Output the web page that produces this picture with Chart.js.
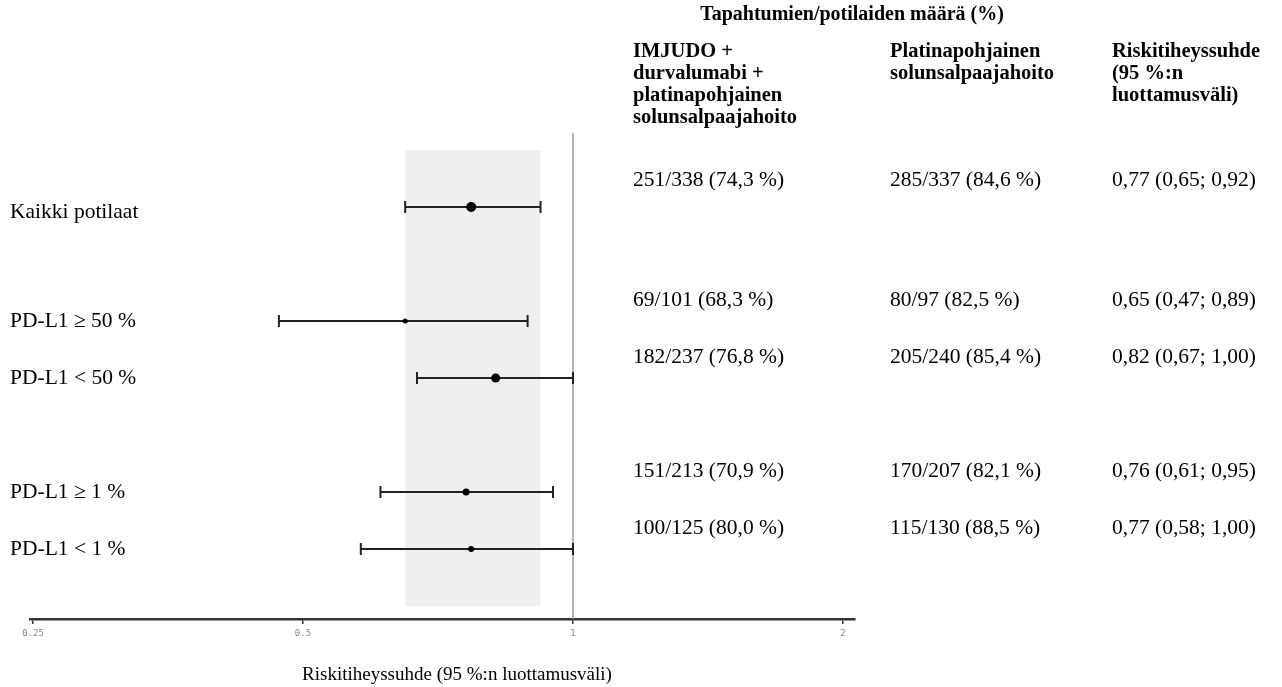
<!DOCTYPE html>
<html>
<head>
<meta charset="utf-8">
<script src="https://cdn.jsdelivr.net/npm/chart.js@4"></script>
<style>
  html, body { margin: 0; padding: 0; background: #fff; }
  #wrap { width: 1282px; height: 687px; position: relative; }
</style>
</head>
<body>
<div id="wrap"><canvas id="forestChart"></canvas></div>
<script>
// ─── data ───
var rowLabels = ['Kaikki potilaat', 'PD-L1 ≥ 50 %', 'PD-L1 < 50 %', 'PD-L1 ≥ 1 %', 'PD-L1 < 1 %'];
var rowPos = [0, 2, 3, 5, 6];
var hrValues = [0.77, 0.65, 0.82, 0.76, 0.77];
var ciLow = [0.65, 0.47, 0.67, 0.61, 0.58];
var ciHigh = [0.92, 0.89, 1.00, 0.95, 1.00];
var imjudoEvents = ['251/338 (74,3 %)', '69/101 (68,3 %)', '182/237 (76,8 %)', '151/213 (70,9 %)', '100/125 (80,0 %)'];
var platinaEvents = ['285/337 (84,6 %)', '80/97 (82,5 %)', '205/240 (85,4 %)', '170/207 (82,1 %)', '115/130 (88,5 %)'];
var hrTexts = ['0,77 (0,65; 0,92)', '0,65 (0,47; 0,89)', '0,82 (0,67; 1,00)', '0,76 (0,61; 0,95)', '0,77 (0,58; 1,00)'];
var pointSizes = [5, 2.5, 4.5, 3.5, 3];
var xTicks = [0.25, 0.5, 1, 2];
var refValue = 1;
var bandRange = [0.65, 0.92];

var groupTitle = 'Tapahtumien/potilaiden määrä (%)';
var colHeaders = [
  ['IMJUDO +', 'durvalumabi +', 'platinapohjainen', 'solunsalpaajahoito'],
  ['Platinapohjainen', 'solunsalpaajahoito'],
  ['Riskitiheyssuhde', '(95 %:n', 'luottamusväli)']
];
var xTitle = 'Riskitiheyssuhde (95 %:n luottamusväli)';

var SERIF = "'Liberation Serif', 'Times New Roman', serif";

// harmaa alue + viiva kohdassa 1 + virhepalkit
var forestPlugin = {
  id: 'forest',
  beforeDatasetsDraw: function(chart) {
    var ctx = chart.ctx, xs = chart.scales.x, ys = chart.scales.y, area = chart.chartArea;
    ctx.save();
    // band
    ctx.fillStyle = '#efefef';
    var bx0 = xs.getPixelForValue(bandRange[0]), bx1 = xs.getPixelForValue(bandRange[1]);
    var by0 = ys.getPixelForValue(-1), by1 = ys.getPixelForValue(7);
    ctx.fillRect(bx0, by0, bx1 - bx0, by1 - by0);
    // ref line
    var rx = xs.getPixelForValue(refValue);
    ctx.strokeStyle = '#999';
    ctx.lineWidth = 1.5;
    ctx.beginPath();
    ctx.moveTo(rx, area.top);
    ctx.lineTo(rx, area.bottom);
    ctx.stroke();
    // CI bars
    ctx.strokeStyle = '#222';
    ctx.lineWidth = 2;
    rowPos.forEach(function(r, i) {
      var y = ys.getPixelForValue(r);
      var x0 = xs.getPixelForValue(ciLow[i]), x1 = xs.getPixelForValue(ciHigh[i]);
      ctx.beginPath();
      ctx.moveTo(x0, y); ctx.lineTo(x1, y);
      ctx.moveTo(x0, y - 6); ctx.lineTo(x0, y + 6);
      ctx.moveTo(x1, y - 6); ctx.lineTo(x1, y + 6);
      ctx.stroke();
    });
    ctx.restore();
  },
  afterDraw: function(chart) {
    var ctx = chart.ctx, ys = chart.scales.y;
    ctx.save();
    ctx.fillStyle = '#000';
    ctx.textBaseline = 'middle';
    // otsikot
    ctx.font = 'bold 20px ' + SERIF;
    ctx.textAlign = 'center';
    ctx.fillText(groupTitle, 852, 15);
    ctx.textAlign = 'left';
    ctx.font = 'bold 20.5px ' + SERIF;
    var colX = [633, 890, 1112];
    colHeaders.forEach(function(lines, c) {
      lines.forEach(function(t, k) { ctx.fillText(t, colX[c], 52 + k * 22); });
    });
    // rivit
    ctx.font = '21.5px ' + SERIF;
    rowPos.forEach(function(r, i) {
      var y = ys.getPixelForValue(r);
      ctx.fillText(rowLabels[i], 10, y + (i === 0 ? 5 : 0));
      var ty = y - (i === 0 ? 27 : 21);
      ctx.fillText(imjudoEvents[i], colX[0], ty);
      ctx.fillText(platinaEvents[i], colX[1], ty);
      ctx.fillText(hrTexts[i], colX[2], ty);
    });
    ctx.font = '19px ' + SERIF;
    ctx.textAlign = 'center';
    ctx.fillText(xTitle, 457, 675);
    ctx.restore();
  }
};

new Chart(document.getElementById('forestChart'), {
  type: 'scatter',
  data: {
    datasets: [{
      data: hrValues.map(function(v, i) { return { x: v, y: rowPos[i] }; }),
      pointRadius: pointSizes,
      pointHoverRadius: pointSizes,
      backgroundColor: '#000',
      borderColor: '#000',
      borderWidth: 0
    }]
  },
  options: {
    responsive: true,
    maintainAspectRatio: false,
    animation: false,
    layout: { padding: { left: 30, right: 427, top: 133, bottom: 0 } },
    plugins: { legend: { display: false }, tooltip: { enabled: false } },
    scales: {
      x: {
        type: 'logarithmic',
        min: 0.25 * Math.pow(2, -3 / 270),
        max: 2 * Math.pow(2, 12 / 270),
        afterBuildTicks: function(s) { s.ticks = xTicks.map(function(v) { return { value: v }; }); },
        afterFit: function(s) { s.height = 68; },
        ticks: {
          autoSkip: false, maxRotation: 0, padding: 4,
          color: '#888',
          font: { family: "'DejaVu Sans Mono', monospace", size: 9 },
          callback: function(v) { return String(v); }
        },
        grid: { drawOnChartArea: false, tickLength: 5, color: '#333', lineWidth: 1.5 },
        border: { color: '#333', width: 2.5 }
      },
      y: {
        display: false,
        reverse: true,
        min: -1.3,
        max: 7.23
      }
    }
  },
  plugins: [forestPlugin]
});
</script>
</body>
</html>
